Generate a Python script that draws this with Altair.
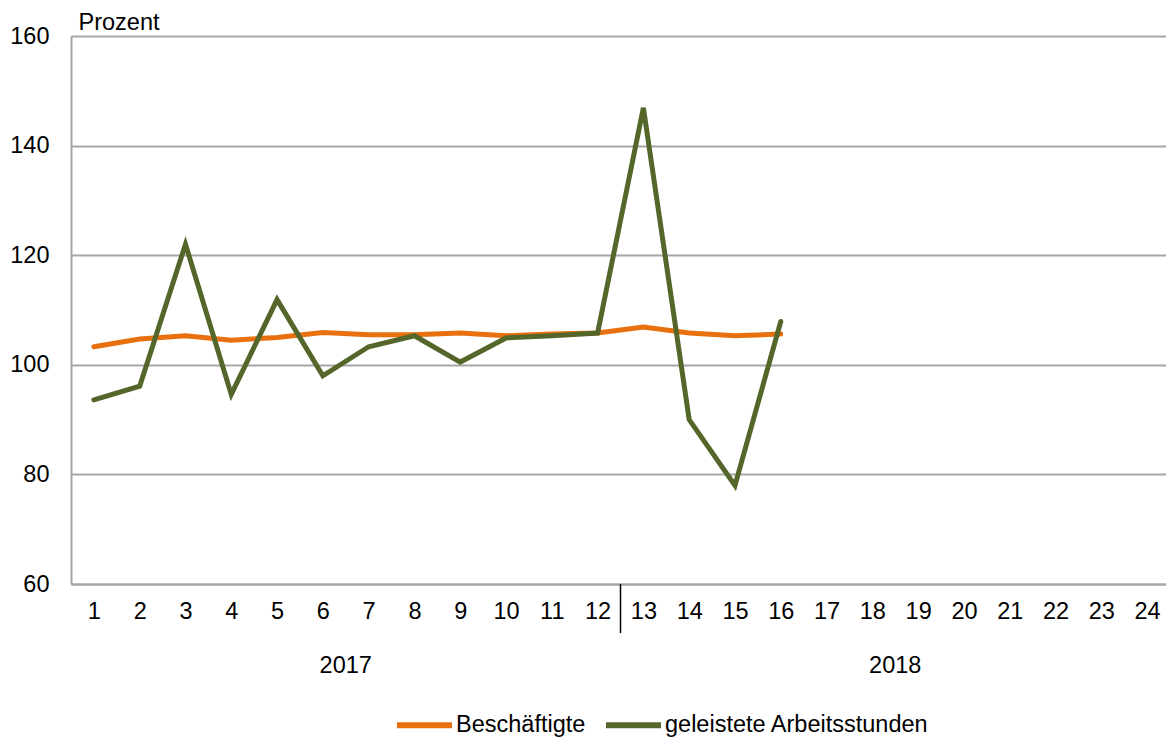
import altair as alt
import pandas as pd

monate = list(range(1, 17))
beschaeftigte = [103.3, 104.7, 105.3, 104.5, 105.0, 105.9, 105.5, 105.5, 105.8, 105.3,
                 105.6, 105.8, 106.9, 105.8, 105.3, 105.6]
arbeitsstunden = [93.6, 96.1, 122.0, 94.6, 111.9, 98.0, 103.3, 105.3, 100.5, 104.9,
                  105.3, 105.8, 146.9, 90.0, 78.0, 107.9]
x_ticks = list(range(1, 25))
y_ticks = [60, 80, 100, 120, 140, 160]
serien = ["Beschäftigte", "geleistete Arbeitsstunden"]
farben = ["#E8700F", "#55662A"]
jahre = ["2017", "2018"]
jahr_mitte = [6.5, 18.5]
trenner = [12.5]

rows = []
for m, v in zip(monate, beschaeftigte):
    rows.append({"Monat": m, "Wert": v, "Serie": serien[0]})
for m, v in zip(monate, arbeitsstunden):
    rows.append({"Monat": m, "Wert": v, "Serie": serien[1]})
df = pd.DataFrame(rows)

FONT = "Liberation Sans"
FS = 23.5
W, H = 1099, 548

xscale = alt.Scale(domain=[0.5, 24.5], nice=False, zero=False)
yscale = alt.Scale(domain=[60, 160], nice=False, zero=False)

lines = alt.Chart(df).mark_line(strokeWidth=5, strokeCap="round").encode(
    x=alt.X("Monat:Q", scale=xscale,
            axis=alt.Axis(values=x_ticks, format="d", title=None, grid=False, ticks=False,
                          labelFontSize=FS, labelFont=FONT, labelColor="#000000",
                          labelPadding=15, domainColor="#A6A6A6", domainWidth=2,
                          labelFlush=False)),
    y=alt.Y("Wert:Q", scale=yscale,
            axis=alt.Axis(values=y_ticks, title="Prozent", titleAngle=0, titleX=7, titleY=-7,
                          titleAlign="left", titleBaseline="alphabetic", titleFontSize=FS,
                          titleFont=FONT, titleFontWeight="normal", titleColor="#000000",
                          labelFontSize=FS, labelFont=FONT, labelColor="#000000",
                          labelPadding=22, ticks=False, grid=True, gridColor="#A6A6A6",
                          gridWidth=2, domainColor="#A6A6A6", domainWidth=2)),
    color=alt.Color("Serie:N", scale=alt.Scale(domain=serien, range=farben),
                    sort=serien,
                    legend=alt.Legend(title=None, orient="none", direction="horizontal",
                                      legendX=323, legendY=658.5, symbolType="stroke",
                                      symbolSize=3025, symbolStrokeWidth=6,
                                      labelFontSize=FS, labelFont=FONT, labelColor="#000000",
                                      labelOffset=1, columnPadding=8, symbolOffset=0,
                                      padding=0, labelLimit=500)),
    order=alt.Order("Serie:N", sort="ascending"),
)

years_df = pd.DataFrame({"x": jahr_mitte, "label": jahre})
years = alt.Chart(years_df).mark_text(fontSize=FS, font=FONT, color="#000000",
                                      baseline="middle").encode(
    x=alt.X("x:Q", scale=xscale),
    y=alt.value(630),
    text="label:N",
)

sep_df = pd.DataFrame({"x": trenner})
sep = alt.Chart(sep_df).mark_rule(color="#000000", strokeWidth=1.5).encode(
    x=alt.X("x:Q", scale=xscale),
    y=alt.value(H),
    y2=alt.value(H + 49),
)

chart = alt.layer(lines, years, sep).properties(
    width=W, height=H,
    autosize=alt.AutoSizeParams(type="none"),
    padding={"left": 63, "top": 28, "right": -4, "bottom": 153},
).configure_view(stroke=None).configure(background="white")

chart.save("out.html", embed_options={"renderer": "svg", "actions": False})
